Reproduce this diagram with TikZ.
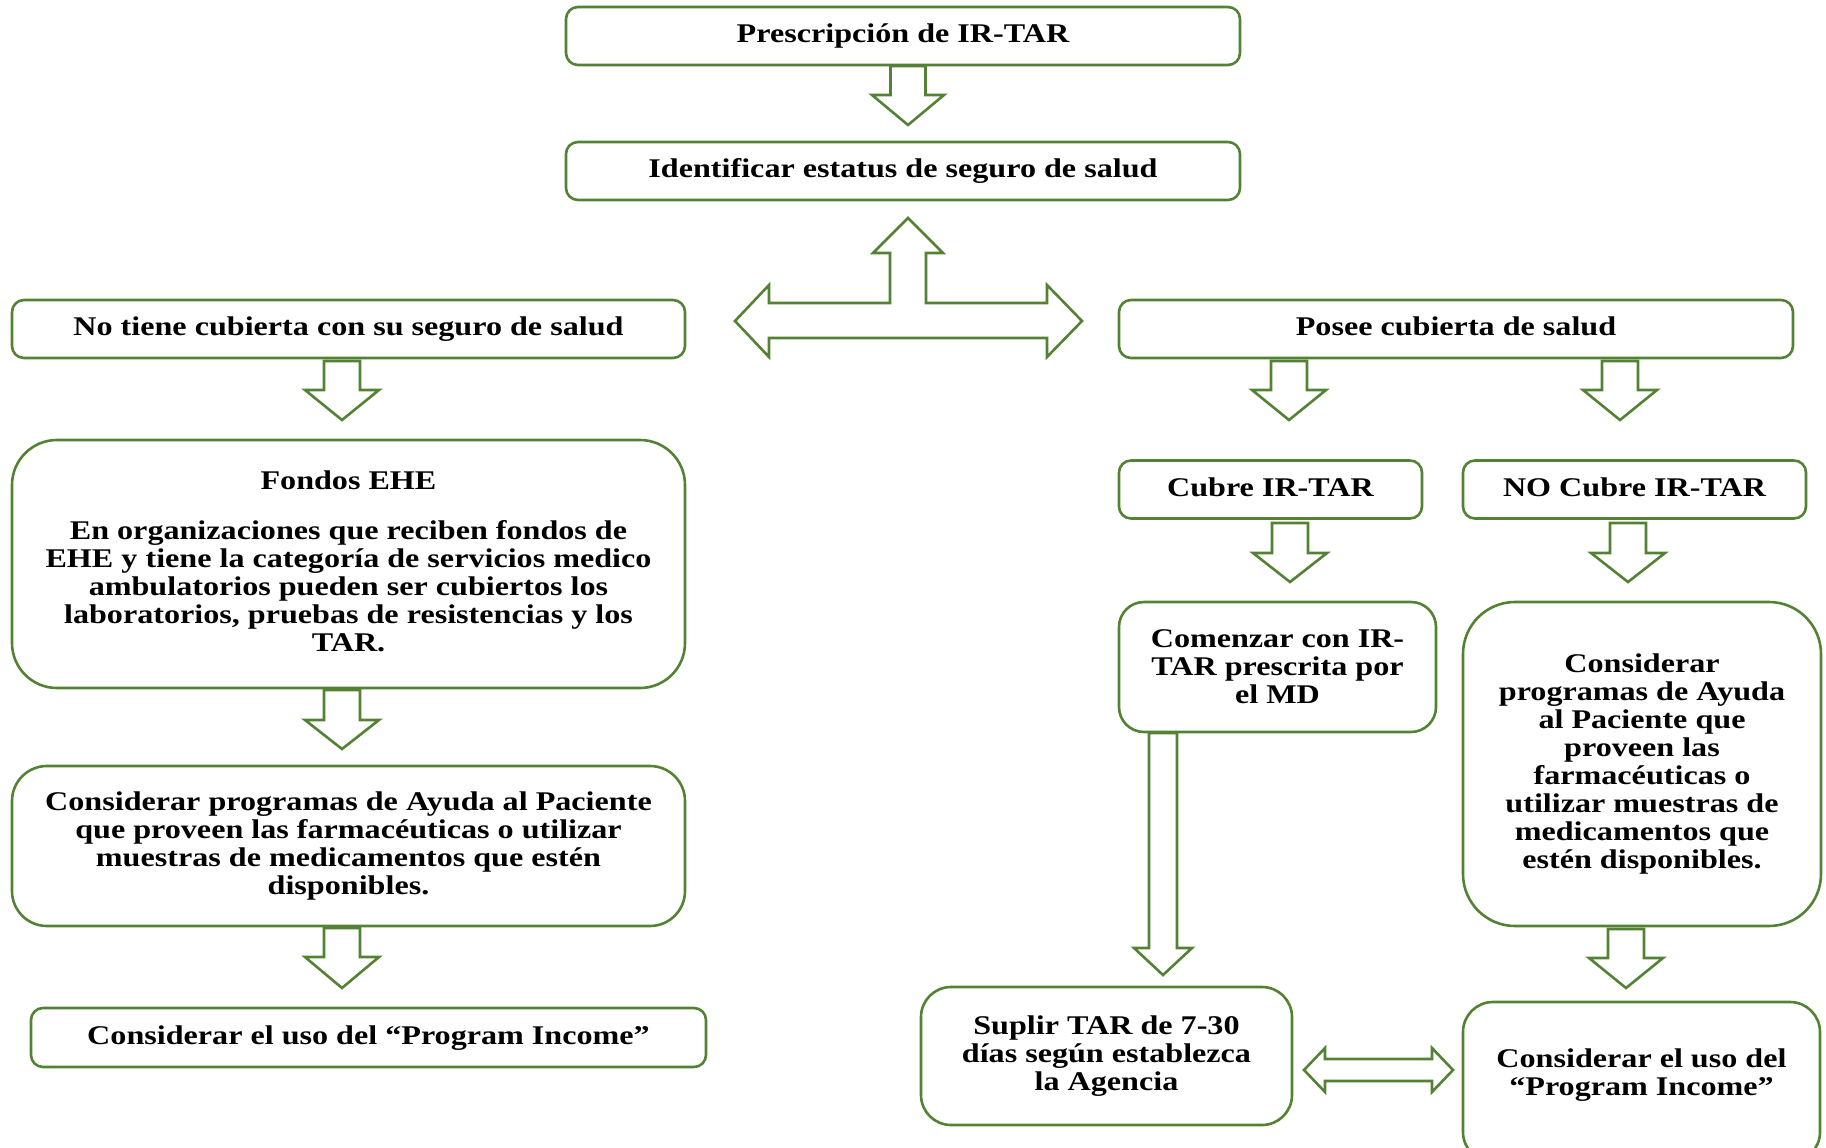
\documentclass[tikz,border=0pt]{standalone}
\usepackage{fontspec}
\setmainfont{Liberation Serif}[FakeStretch=1.19]
\definecolor{grn}{RGB}{84,130,53}
\tikzset{
  box/.style={draw=grn, line width=2.6pt, rounded corners=#1, align=center,
    inner sep=0pt, fill=white, font=\bfseries\fontsize{27}{28}\selectfont},
  box/.default=12pt,
  one/.style={text height=19pt, text depth=6pt},
  blk/.style={draw=grn, line width=2.6pt, fill=white, line join=miter},
}
\newcommand\bdown[6]{%
  \draw[blk] (#1-#5,#2) -- (#1+#5,#2) -- (#1+#5,#3) -- (#1+#6,#3) -- (#1,#4)
    -- (#1-#6,#3) -- (#1-#5,#3) -- cycle;}
\begin{document}
\begin{tikzpicture}[x=1pt,y=-1pt]
\useasboundingbox (0,0) rectangle (1826,1148);

% boxes
\node[box, one, minimum width=674, minimum height=58] (b1) at (903,36) {Prescripción de IR-TAR};
\node[box, one, minimum width=674, minimum height=58] (b2) at (903,171) {Identificar estatus de seguro de salud};
\node[box, one, minimum width=673, minimum height=58] (b3) at (348.5,329) {No tiene cubierta con su seguro de salud};
\node[box, one, minimum width=674, minimum height=58] (b4) at (1456,329) {Posee cubierta de salud};
\node[box=45pt, minimum width=673, minimum height=248, text depth=5.5pt] (fondos) at (348.5,564)
  {Fondos EHE\\[22pt]En organizaciones que reciben fondos de\\EHE y tiene la categoría de servicios medico\\ambulatorios pueden ser cubiertos los\\laboratorios, pruebas de resistencias y los\\TAR.};
\node[box=35pt, minimum width=673, minimum height=160] (consL) at (348.5,846)
  {Considerar programas de Ayuda al Paciente\\que proveen las farmacéuticas o utilizar\\muestras de medicamentos que estén\\disponibles.};
\node[box, one, minimum width=675, minimum height=59] (piL) at (368.5,1037.5) {Considerar el uso del “Program Income”};
\node[box, one, minimum width=303, minimum height=58] (cubre) at (1270.5,489.5) {Cubre IR-TAR};
\node[box, one, minimum width=343, minimum height=58] (nocubre) at (1634.5,489.5) {NO Cubre IR-TAR};
\node[box=25pt, minimum width=317, minimum height=130] (comenzar) at (1277.5,667)
  {Comenzar con IR-\\TAR prescrita por\\el MD};
\node[box=52pt, minimum width=358, minimum height=324] (consR) at (1642,764)
  {Considerar\\programas de Ayuda\\al Paciente que\\proveen las\\farmacéuticas o\\utilizar muestras de\\medicamentos que\\estén disponibles.};
\node[box=30pt, minimum width=371, minimum height=138] (suplir) at (1106.5,1056)
  {Suplir TAR de 7-30\\días según establezca\\la Agencia};
\node[box=30pt, minimum width=357, minimum height=160, text depth=20pt] (piR) at (1641.5,1082)
  {Considerar el uso del\\“Program Income”};

% block arrows
\bdown{908}{66}{95}{125}{17.5}{36}
\bdown{342}{361}{390}{420}{18}{37}
\bdown{342}{690}{720}{749}{18}{37}
\bdown{342}{928}{957}{988}{18}{37}
\bdown{1289}{361}{390}{420}{18}{37}
\bdown{1620}{361}{390}{420}{18}{37}
\bdown{1290}{523}{553}{582}{18}{37}
\bdown{1628}{523}{553}{582}{18}{37}
\bdown{1163}{733}{948}{975}{14}{29}
\bdown{1626}{929}{958}{988}{18}{37}

% T-shaped three-way arrow
\draw[blk] (908,218) -- (943,253) -- (926,253) -- (926,303) -- (1047,303) -- (1047,285)
  -- (1082,321) -- (1047,357) -- (1047,338) -- (769,338) -- (769,357) -- (735,321)
  -- (769,285) -- (769,303) -- (890,303) -- (890,253) -- (873,253) -- cycle;

% double arrow bottom
\draw[blk] (1304,1070) -- (1325,1048) -- (1325,1059) -- (1432,1059) -- (1432,1048)
  -- (1453,1070) -- (1432,1092) -- (1432,1081) -- (1325,1081) -- (1325,1092) -- cycle;
\end{tikzpicture}
\end{document}
